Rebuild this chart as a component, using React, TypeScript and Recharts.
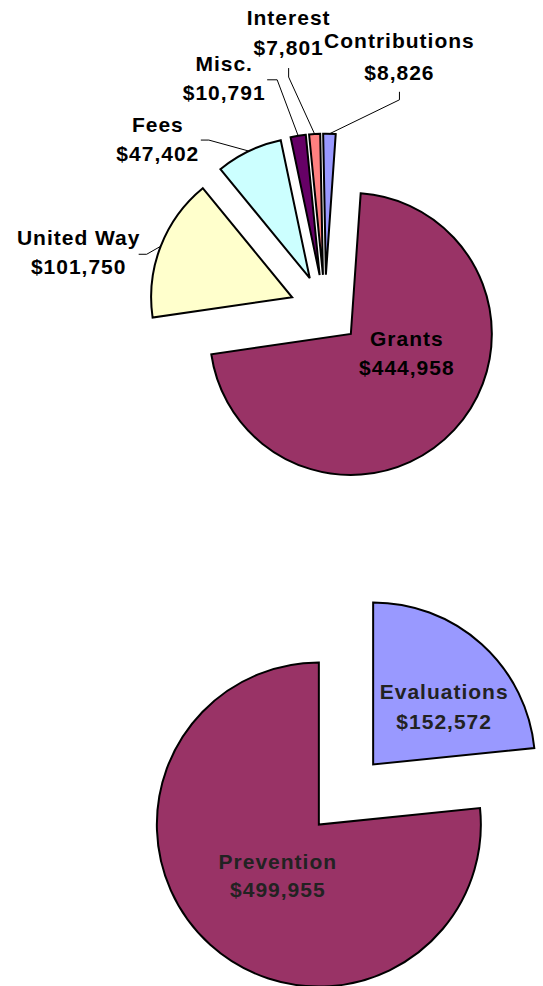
import { PieChart, Pie, Cell, Sector } from 'recharts';

// Income (top pie), clockwise from 12 o'clock
const incomeNames = ['Grants', 'United Way', 'Fees', 'Misc.', 'Interest', 'Contributions'];
const incomeValues = [444958, 101750, 47402, 10791, 7801, 8826];

// Expenses (bottom pie)
const expenseNames = ['Evaluations', 'Prevention'];
const expenseValues = [152572, 499955];

const incomeColors = ['#993366', '#FFFFCC', '#CCFFFF', '#660066', '#FF8080', '#9999FF'];
const expenseColors = ['#9999FF', '#993366'];

const income = incomeNames.map((name, i) => ({ name, value: incomeValues[i] }));
const expenses = expenseNames.map((name, i) => ({ name, value: expenseValues[i] }));

const RAD = Math.PI / 180;
const EXPLODE = 0.25; // every slice pulled out by a quarter of the radius

type LabelLayout = {
  elbow?: [number, number];
  stub?: [number, number];
  text: [number, number, number]; // dx, baseline1, baseline2
};

// outside labels are placed relative to the arc midpoint, inside labels relative to the slice tip
const labelLayout: Record<string, LabelLayout> = {
  Contributions: { elbow: [70, -34], stub: [70, -42], text: [70, -86, -54] },
  Interest: { elbow: [-26, -57], stub: [-26, -66], text: [-26, -109, -79] },
  'Misc.': { elbow: [-21, -56], stub: [-31, -56], text: [-74, -65, -36] },
  Fees: { elbow: [-40, -11], stub: [-48, -11], text: [-91, -19, 10] },
  'United Way': { elbow: [-14, 8], stub: [-22, 8], text: [-82, -1, 28] },
  Grants: { text: [56, 12, 41] },
  Evaluations: { text: [71, -65, -35] },
  Prevention: { text: [-41, 44, 72] },
};

const fmt = (v: number) => '$' + v.toLocaleString('en-US');

function ExplodedSector(props: any) {
  const { cx, cy, midAngle, outerRadius } = props;
  const e = outerRadius * EXPLODE;
  return (
    <Sector
      {...props}
      cx={cx + e * Math.cos(-midAngle * RAD)}
      cy={cy + e * Math.sin(-midAngle * RAD)}
    />
  );
}

const makeLabel = (color: string) => (props: any) => {
  const { cx, cy, midAngle, outerRadius, name, value } = props;
  const L = labelLayout[name];
  if (!L) return null;
  const cos = Math.cos(-midAngle * RAD);
  const sin = Math.sin(-midAngle * RAD);
  const e = outerRadius * EXPLODE;
  const ox = cx + e * cos;
  const oy = cy + e * sin;
  let bx = ox;
  let by = oy;
  let line = null;
  if (L.elbow && L.stub) {
    bx = ox + outerRadius * cos;
    by = oy + outerRadius * sin;
    const pts = [
      [bx, by],
      [bx + L.elbow[0], by + L.elbow[1]],
      [bx + L.stub[0], by + L.stub[1]],
    ]
      .map((p) => p.join(','))
      .join(' ');
    line = <polyline points={pts} fill="none" stroke="#000" strokeWidth={1} />;
  }
  const textStyle = {
    fontFamily: '"Liberation Sans", Arial, sans-serif',
    fontWeight: 'bold' as const,
    fontSize: 21,
    letterSpacing: 1,
  };
  return (
    <g>
      {line}
      <text x={bx + L.text[0]} y={by + L.text[1]} textAnchor="middle" fill={color} style={textStyle}>
        {name}
      </text>
      <text x={bx + L.text[0]} y={by + L.text[2]} textAnchor="middle" fill={color} style={textStyle}>
        {fmt(value)}
      </text>
    </g>
  );
};

export default function App() {
  return (
    <div style={{ position: 'absolute', left: 0, top: 0, background: '#fff' }}>
      <PieChart width={543} height={986} margin={{ top: 0, right: 0, bottom: 0, left: 0 }}>
        <Pie
          data={income}
          dataKey="value"
          nameKey="name"
          cx={325}
          cy={310}
          outerRadius={141}
          startAngle={86}
          endAngle={-274}
          stroke="#000"
          strokeWidth={2}
          shape={ExplodedSector}
          label={makeLabel('#000')}
          labelLine={false}
          isAnimationActive={false}
        >
          {income.map((d, i) => (
            <Cell key={d.name} fill={incomeColors[i]} />
          ))}
        </Pie>
        <Pie
          data={expenses}
          dataKey="value"
          nameKey="name"
          cx={346}
          cy={794.5}
          outerRadius={162}
          startAngle={90}
          endAngle={-270}
          stroke="#000"
          strokeWidth={2}
          shape={ExplodedSector}
          label={makeLabel('#222')}
          labelLine={false}
          isAnimationActive={false}
        >
          {expenses.map((d, i) => (
            <Cell key={d.name} fill={expenseColors[i]} />
          ))}
        </Pie>
      </PieChart>
    </div>
  );
}
